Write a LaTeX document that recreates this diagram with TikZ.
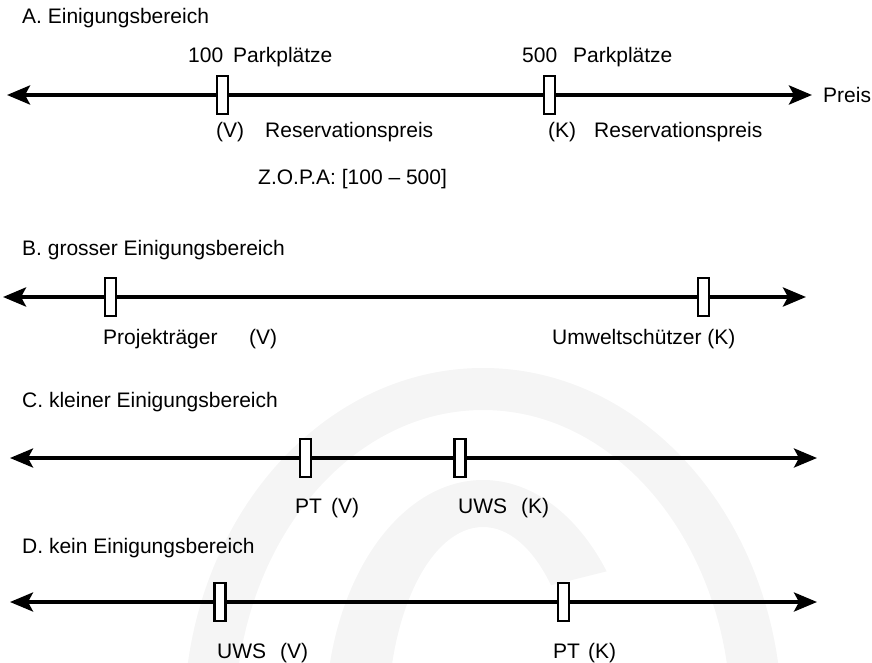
\documentclass[tikz,border=0pt]{standalone}
\usepackage{fontspec}
\setmainfont{Liberation Sans}
\usetikzlibrary{arrows.meta,calc}
\begin{document}
\begin{tikzpicture}[x=1pt,y=-1pt,
  axisline/.style={line width=#1,
    {Stealth[length=23pt,width=19pt,inset=5pt]}-{Stealth[length=23pt,width=19pt,inset=5pt]}},
  axisline/.default=4pt,
  pricebox/.style={draw, line width=2.5pt, fill=white, inner sep=0pt,
    minimum width=11pt, minimum height=38pt},
  lbl/.style={anchor=base west, inner sep=0pt, font=\fontsize{21}{25}\selectfont},
  watermark/.style={fill=black!4, even odd rule}
]
\useasboundingbox (0,0) rectangle (872,663);

% faint logo rings in the background
\coordinate (logo) at (483,720);
\begin{scope}
  \clip (0,0) rectangle (872,663);
  % outer ring
  \fill[watermark] (logo) ellipse[x radius=299, y radius=352]
                   (logo) ellipse[x radius=248, y radius=310];
  % inner ring, open towards the lower right
  \begin{scope}
    \clip (540,588) -- (700,548) -- (1000,0) -- (-100,0) -- (-100,720) -- (logo) -- cycle;
    \fill[watermark] (logo) ellipse[x radius=157.5, y radius=240]
                     (logo) ellipse[x radius=95, y radius=193];
  \end{scope}
\end{scope}

% ---------- A. Einigungsbereich ----------
\node[lbl] (tA) at (22,24) {A. Einigungsbereich};
\coordinate (aL) at (7,95);
\coordinate (aR) at (812,95);
\draw[axisline] (aL) -- (aR);
\node[pricebox] (a1) at (222.5,95) {};
\node[pricebox] (a2) at (549.5,95) {};
\node[lbl] (a1n) at (188,63) {100};
\node[lbl] (a1p) at (233,63) {Parkplätze};
\node[lbl] (a2n) at (522,63) {500};
\node[lbl] (a2p) at (573,63) {Parkplätze};
\node[lbl] (preis) at (823,103) {Preis};
\node[lbl] (a1v) at (216,138) {(V)};
\node[lbl] (a1r) at (265,138) {Reservationspreis};
\node[lbl] (a2k) at (548,138) {(K)};
\node[lbl] (a2r) at (594,138) {Reservationspreis};
\node[lbl] (zopa) at (258,185) {Z.O.P.A: [100 – 500]};

% ---------- B. grosser Einigungsbereich ----------
\node[lbl] (tB) at (22,255) {B. grosser Einigungsbereich};
\coordinate (bL) at (3,297);
\coordinate (bR) at (806,297);
\draw[axisline] (bL) -- (bR);
\node[pricebox] (b1) at (110.5,297) {};
\node[pricebox] (b2) at (703.5,297) {};
\node[lbl] (b1t) at (103,344) {Projekträger};
\node[lbl] (b1v) at (249,344) {(V)};
\node[lbl] (b2t) at (552,344) {Umweltschützer (K)};

% ---------- C. kleiner Einigungsbereich ----------
\node[lbl] (tC) at (22,407) {C. kleiner Einigungsbereich};
\coordinate (cL) at (10,458);
\coordinate (cR) at (817,458);
\draw[axisline=3.5pt] (cL) -- (cR);
\node[pricebox] (c1) at (305.5,458) {};
\node[pricebox] (c2) at (460,458) {};
\node[lbl] (c1t) at (295,513) {PT};
\node[lbl] (c1v) at (331,513) {(V)};
\node[lbl] (c2t) at (458,513) {UWS};
\node[lbl] (c2k) at (521,513) {(K)};

% ---------- D. kein Einigungsbereich ----------
\node[lbl] (tD) at (22,553) {D. kein Einigungsbereich};
\coordinate (dL) at (10,602);
\coordinate (dR) at (817,602);
\draw[axisline=3.5pt] (dL) -- (dR);
\node[pricebox] (d1) at (220,602) {};
\node[pricebox] (d2) at (563.5,602) {};
\node[lbl] (d1t) at (217,658) {UWS};
\node[lbl] (d1v) at (280,658) {(V)};
\node[lbl] (d2t) at (553,658) {PT};
\node[lbl] (d2k) at (588,658) {(K)};
\end{tikzpicture}
\end{document}
